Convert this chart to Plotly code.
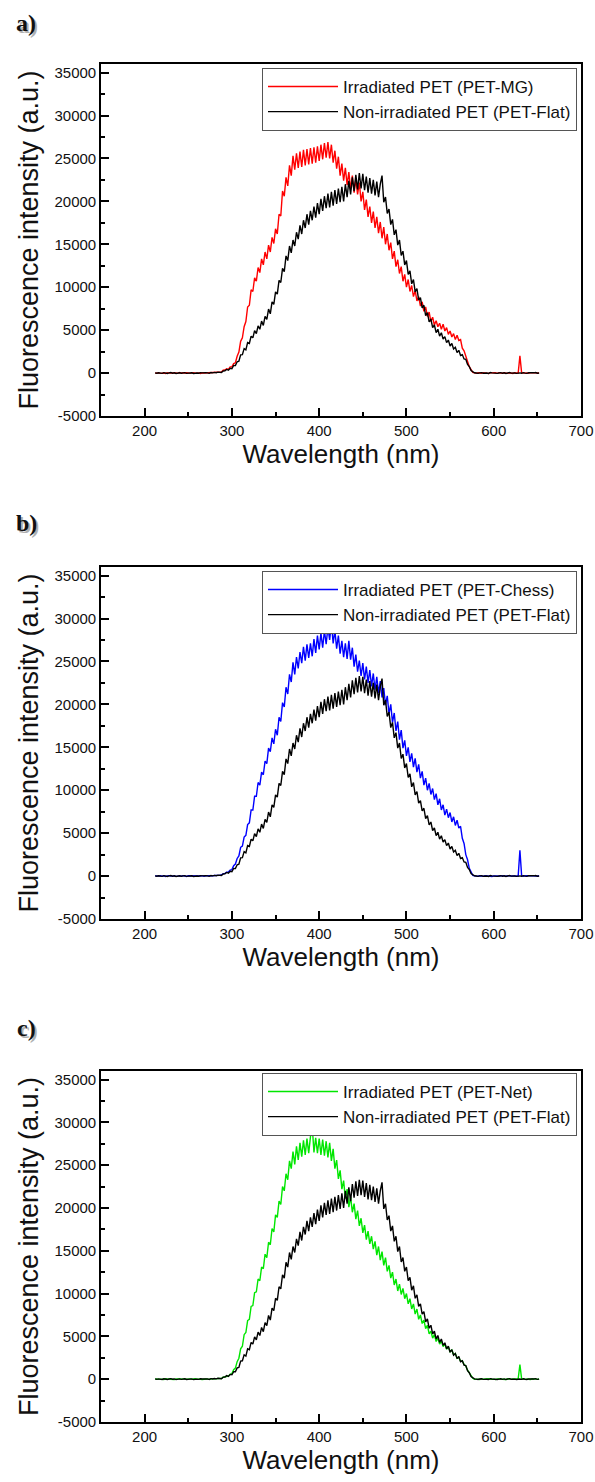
import plotly.graph_objects as go

W, H = 595, 1482

# ---------------- data ----------------
wavelength_nm = [
    212, 214, 216, 218, 220, 222, 224, 226, 228, 230, 232, 234, 236, 238, 240, 242, 244, 246, 248, 250,
    252, 254, 256, 258, 260, 262, 264, 266, 268, 270, 272, 274, 276, 278, 280, 282, 284, 286, 288, 290,
    292, 294, 296, 298, 300, 302, 304, 306, 308, 310, 312, 314, 316, 318, 320, 322, 324, 326, 328, 330,
    332, 334, 336, 338, 340, 342, 344, 346, 348, 350, 352, 354, 356, 358, 360, 362, 364, 366, 368, 370,
    372, 374, 376, 378, 380, 382, 384, 386, 388, 390, 392, 394, 396, 398, 400, 402, 404, 406, 408, 410,
    412, 414, 416, 418, 420, 422, 424, 426, 428, 430, 432, 434, 436, 438, 440, 442, 444, 446, 448, 450,
    452, 454, 456, 458, 460, 462, 464, 466, 468, 470, 472, 474, 476, 478, 480, 482, 484, 486, 488, 490,
    492, 494, 496, 498, 500, 502, 504, 506, 508, 510, 512, 514, 516, 518, 520, 522, 524, 526, 528, 530,
    532, 534, 536, 538, 540, 542, 544, 546, 548, 550, 552, 554, 556, 558, 560, 562, 564, 566, 568, 570,
    572, 574, 576, 578, 580, 582, 584, 586, 588, 590, 592, 594, 596, 598, 600, 602, 604, 606, 608, 610,
    612, 614, 616, 618, 620, 622, 624, 626, 628, 630, 632, 634, 636, 638, 640, 642, 644, 646, 648, 650,
    652,
]

# Non-irradiated PET (PET-Flat) -- same curve in all three panels
flat_low = [30, -20, 40, 10, -30, 50, 0, -40, 20, 60, -10, 30, -50, 20, 40, -20, 10, 50, -30, 20,
            0, 40, -40, 30, 10, -20, 50, 20, -10, 40, 30, -30, 60, 20, 80, 40, 110, 70]
flat_mid = [
    60, 240, 260, 420, 330, 560, 520, 880, 870, 1320,
    1380, 2120, 2150, 2850, 2700, 3550, 3450, 4300, 4100, 4950,
    4600, 5500, 5100, 6050, 5550, 6600, 6250, 7450, 6900, 8300,
    8000, 9450, 9200, 10800, 10550, 12200, 11800, 13650, 13100, 14800,
    14000, 15500, 14800, 16400, 15600, 17200, 16200, 17800, 16900, 18500,
    17300, 18900, 17800, 19400, 18100, 19800, 18500, 20300, 18900, 20600,
    19200, 20900, 19300, 21100, 19500, 21300, 19700, 21500, 19900, 21700,
    20000, 22000, 20500, 22400, 20800, 22800, 21200, 23100, 21400, 23300,
    21500, 23200, 21300, 22900, 21000, 22700, 20900, 22500, 20700, 22300,
    20500, 22000, 23000, 19900, 20500, 18600, 19100, 17300, 17900, 16100,
    16700, 14900, 15500, 13700, 14200, 12600, 13100, 11500, 11900, 10400,
    10900, 9450, 9850, 8500, 8800, 7600, 7900, 6700, 7050, 5950,
    6300, 5300, 5600, 4700, 5100, 4300, 4700, 3950, 4250, 3550,
    3850, 3150, 3450, 2800, 3000, 2400, 2650, 2050, 2150, 1650,
    1600, 1000, 760, 300, 120,
]
flat_high = [40, 10, -30, 20, 50, -20, 30, 0, -40, 60, 20, -10, 40, -30, 10, 50, -20, 30, -40, 20,
             60, -10, 30, 10, -30, 40, 20, -20, 50, 0, -30, 40, 20, -10, 30, 60, -20, 10]

# Irradiated PET (PET-MG)
mg_low = [-10, 40, 20, -30, 30, 10, -40, 50, 0, 20, -20, 40, 10, -30, 60, 0, 30, -20, 40, 10,
          -30, 20, 50, -10, 30, 0, -40, 40, 10, 20, -20, 50, 30, 70, 40, 90, 130, 100]
mg_mid = [
    120, 330, 360, 500, 440, 720, 740, 1100, 1200, 1950,
    2450, 3700, 4100, 5400, 6000, 7700, 7900, 9700, 9500, 11100,
    10700, 12300, 11700, 13300, 12600, 14100, 13300, 14900, 14100, 15800,
    15100, 16800, 16200, 18500, 18300, 21200, 20600, 22800, 21800, 24200,
    23000, 25300, 23700, 25600, 23900, 25800, 24000, 26000, 24200, 26100,
    24300, 26200, 24400, 26300, 24500, 26400, 24700, 26600, 24900, 26800,
    25100, 26900, 25000, 26600, 24500, 25900, 23800, 25200, 23000, 24400,
    22400, 23900, 21900, 23400, 21400, 23000, 21000, 22600, 20800, 22200,
    20000, 21100, 19000, 20200, 18200, 19400, 17500, 18800, 16900, 18200,
    16300, 17600, 15700, 17000, 15000, 16200, 14300, 15200, 13300, 14200,
    12400, 13200, 11600, 12400, 10700, 11500, 10000, 10900, 9500, 10200,
    8900, 9600, 8400, 8900, 7800, 8300, 7200, 7700, 6600, 7100,
    6000, 6500, 5600, 6100, 5400, 5800, 5100, 5700, 4900, 5300,
    4500, 4900, 4200, 4600, 3900, 4400, 3800, 3900, 2900, 2600,
    1800, 1350, 750, 420, 90,
]
mg_high = [20, -30, 40, 10, -20, 50, 0, 30, -40, 20, 40, -10, 30, -30, 50, 10, -20, 40, 0, -30,
           30, 20, -40, 50, 10, -20, 2000, 30, -10, 40, 0, -30, 50, 20, -20, 30, 10, -10]

# Irradiated PET (PET-Chess)
chess_low = [20, -30, 10, 40, -20, 30, -40, 20, 50, -10, 30, 0, -30, 40, 20, -20, 50, 10, -40, 30,
             20, -10, 40, 0, -30, 30, 10, 50, -20, 40, 20, 0, 60, 30, 70, 60, 100, 90]
chess_mid = [
    130, 280, 320, 450, 470, 700, 760, 1200, 1400, 2050,
    2350, 3350, 3500, 4550, 4750, 6000, 6200, 7700, 7700, 9300,
    9300, 10900, 10600, 12100, 11800, 13400, 13100, 14900, 14500, 16100,
    15400, 17100, 16400, 18500, 18000, 20200, 19700, 22000, 21200, 23500,
    22600, 24900, 23500, 25500, 24200, 26100, 24800, 26700, 25100, 27000,
    25400, 27100, 25600, 27600, 26000, 28000, 26400, 28300, 26600, 28600,
    27000, 29000, 27500, 29500, 27100, 28600, 26500, 28000, 25900, 27400,
    25500, 27100, 25300, 27400, 25200, 26600, 24400, 25800, 23800, 25100,
    23300, 24800, 22900, 24400, 22500, 24000, 22100, 23600, 21700, 23200,
    21300, 22700, 20800, 21900, 19900, 21000, 18900, 20000, 17900, 19000,
    16900, 18000, 15900, 17000, 14900, 15800, 14000, 15000, 13300, 14300,
    12700, 13700, 12100, 13000, 11400, 12200, 10600, 11400, 10000, 10800,
    9500, 10200, 8900, 9600, 8300, 9000, 7700, 8300, 7100, 7800,
    6800, 7400, 6300, 6900, 5900, 6500, 5600, 5800, 4400, 3800,
    2500, 1900, 900, 450, 80,
]
chess_high = [30, 0, -20, 40, 10, -30, 50, 20, -10, 30, -40, 20, 40, 0, -20, 30, 50, -10, 20, -30,
              40, 10, -20, 30, 0, -10, 3000, 20, -30, 40, 10, -20, 30, 50, 0, -10, 20, 10]

# Irradiated PET (PET-Net)
net_low = [10, 40, -20, 30, 0, -30, 50, 20, -10, 40, 10, -40, 30, 20, -20, 50, 0, 30, -30, 10,
           40, -20, 20, 50, -10, 30, 0, -30, 40, 20, 10, -20, 50, 30, 60, 40, 90, 60]
net_mid = [
    80, 230, 280, 400, 370, 560, 650, 1100, 1300, 2050,
    2450, 3550, 3850, 5200, 5450, 6850, 7000, 8500, 8600, 10100,
    10200, 11700, 11500, 13100, 12900, 14600, 14200, 16000, 15700, 17600,
    17200, 19200, 18900, 20800, 20400, 22500, 22000, 24000, 23300, 25500,
    24600, 26600, 25100, 27200, 25600, 27600, 26000, 27900, 26200, 28100,
    26400, 28300, 29600, 26500, 28200, 26400, 28100, 26200, 28000, 26100,
    27800, 25900, 27600, 25500, 26900, 24600, 25600, 23400, 24400, 22200,
    23200, 21100, 22200, 20100, 21300, 19500, 20500, 18700, 19700, 17900,
    18800, 17100, 18000, 16300, 17300, 15800, 16700, 15200, 16100, 14500,
    15500, 13900, 14900, 13300, 14200, 12600, 13300, 11800, 12500, 11000,
    11700, 10300, 11100, 9900, 10600, 9400, 10000, 8800, 9400, 8200,
    8800, 7600, 8200, 7000, 7500, 6500, 6900, 5900, 6300, 5300,
    5600, 4800, 5200, 4400, 4800, 4100, 4450, 3800, 4100, 3500,
    3800, 3200, 3400, 2850, 3000, 2450, 2550, 2100, 2150, 1700,
    1550, 1050, 750, 320, 110,
]
net_high = [-20, 30, 10, -30, 40, 0, 20, -10, 50, -20, 30, 10, -40, 40, 20, -10, 30, 0, -30, 50,
            10, -20, 40, 20, -10, 30, 1700, 0, 40, -20, 30, 10, -30, 50, 20, 0, -20, 30]

pet_flat = flat_low + flat_mid + flat_high
pet_mg = mg_low + mg_mid + mg_high
pet_chess = chess_low + chess_mid + chess_high
pet_net = net_low + net_mid + net_high

for s in (pet_flat, pet_mg, pet_chess, pet_net):
    assert len(s) == len(wavelength_nm), len(s)

panel_letters = ["a)", "b)", "c)"]
irradiated_names = ["Irradiated PET (PET-MG)", "Irradiated PET (PET-Chess)", "Irradiated PET (PET-Net)"]
irradiated_series = [pet_mg, pet_chess, pet_net]
irradiated_colors = ["#ff0000", "#0000ff", "#00e600"]
flat_name = "Non-irradiated PET (PET-Flat)"

x_tick_values = [200, 300, 400, 500, 600, 700]
y_tick_values = [-5000, 0, 5000, 10000, 15000, 20000, 25000, 30000, 35000]
y_tick_labels = ["-5000", "0", "5000", "10000", "15000", "20000", "25000", "30000", "35000"]

# ---------------- layout geometry (pixels) ----------------
plot_left, plot_right = 101, 581
panel_tops = [64, 567, 1071]
panel_bottoms = [416, 919, 1422]
legend_tops = [68, 571, 1073]
label_centers = [23, 523, 1028]

def px_x(p):
    return p / W

def px_y(p):
    return 1 - p / H

SANS = "Liberation Sans, Arial, sans-serif"
fig = go.Figure()

for i in range(3):
    xa = "x" if i == 0 else f"x{i+1}"
    ya = "y" if i == 0 else f"y{i+1}"
    lg = "legend" if i == 0 else f"legend{i+1}"
    fig.add_trace(go.Scatter(
        x=wavelength_nm, y=irradiated_series[i], mode="lines",
        name=irradiated_names[i], line=dict(color=irradiated_colors[i], width=1.4),
        xaxis=xa, yaxis=ya, legend=lg))
    fig.add_trace(go.Scatter(
        x=wavelength_nm, y=pet_flat, mode="lines",
        name=flat_name, line=dict(color="#000000", width=1.4),
        xaxis=xa, yaxis=ya, legend=lg))

layout = dict(
    width=W, height=H,
    margin=dict(l=0, r=0, t=0, b=0),
    paper_bgcolor="white", plot_bgcolor="white",
    font=dict(family=SANS, color="#111111"),
    showlegend=True,
)

common_axis = dict(
    showline=True, mirror=True, linecolor="black", linewidth=1.6,
    ticks="inside", tickcolor="black", tickwidth=1.5, ticklen=8,
    showgrid=False, zeroline=False, automargin=False,
    tickfont=dict(family=SANS, size=15, color="#111111"),
)

annotations = []
for i in range(3):
    xk = "xaxis" if i == 0 else f"xaxis{i+1}"
    yk = "yaxis" if i == 0 else f"yaxis{i+1}"
    ya = "y" if i == 0 else f"y{i+1}"
    xa = "x" if i == 0 else f"x{i+1}"
    layout[xk] = dict(
        common_axis,
        domain=[px_x(plot_left), px_x(plot_right)], anchor=ya,
        range=[150, 700], tickmode="array", tickvals=x_tick_values,
        minor=dict(ticks="inside", ticklen=4, tickwidth=1.5, tickcolor="black",
                   tickmode="linear", tick0=150, dtick=50),
        title=dict(text="Wavelength (nm)", font=dict(family=SANS, size=26, color="#111111"),
                   standoff=4),
    )
    layout[yk] = dict(
        common_axis,
        domain=[px_y(panel_bottoms[i]), px_y(panel_tops[i])], anchor=xa,
        range=[-5000, 36000], tickmode="array", tickvals=y_tick_values, ticktext=y_tick_labels,
        minor=dict(ticks="inside", ticklen=4, tickwidth=1.5, tickcolor="black",
                   tickmode="linear", tick0=-5000, dtick=2500),
        title=dict(text="Fluorescence intensity (a.u.)", font=dict(family=SANS, size=27, color="#111111"),
                   standoff=8),
    )
    lg = "legend" if i == 0 else f"legend{i+1}"
    layout[lg] = dict(
        x=px_x(577), xanchor="right", y=px_y(legend_tops[i]), yanchor="top",
        bgcolor="white", bordercolor="#555555", borderwidth=1,
        font=dict(family=SANS, size=17, color="#111111"),
        tracegroupgap=0, traceorder="normal", itemwidth=70,
    )
    # panel letter with a soft shadow
    annotations.append(dict(
        text=f"<b>{panel_letters[i]}</b>", xref="paper", yref="paper",
        x=px_x(28), y=px_y(label_centers[i] + 2), xanchor="center", yanchor="middle",
        showarrow=False, font=dict(family="Liberation Serif, Times New Roman, serif", size=24, color="#b0b0b0")))
    annotations.append(dict(
        text=f"<b>{panel_letters[i]}</b>", xref="paper", yref="paper",
        x=px_x(26), y=px_y(label_centers[i]), xanchor="center", yanchor="middle",
        showarrow=False, font=dict(family="Liberation Serif, Times New Roman, serif", size=24, color="#111111")))

layout["annotations"] = annotations
fig.update_layout(**layout)

fig.write_html("out.html")
